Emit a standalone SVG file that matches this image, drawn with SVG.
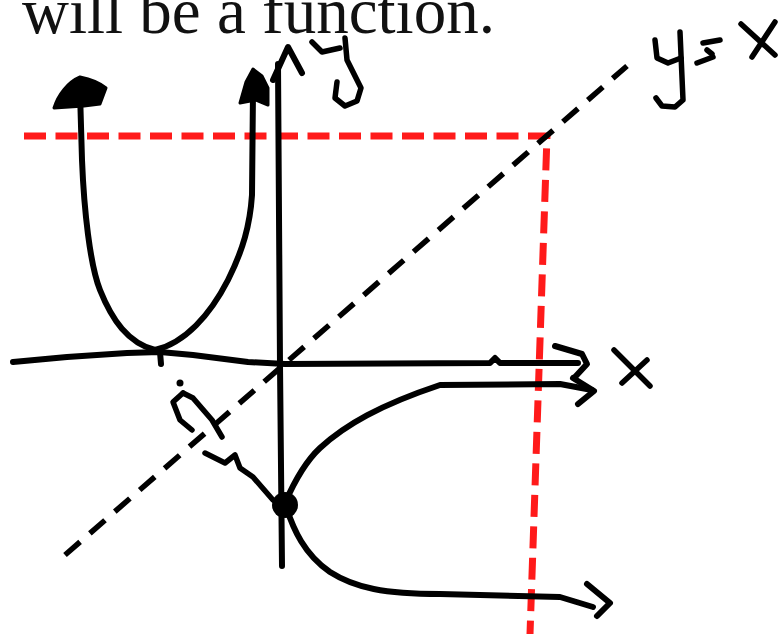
<svg xmlns="http://www.w3.org/2000/svg" width="781" height="638" viewBox="0 0 781 638">
<style>
.ink{fill:none;stroke:#000;stroke-width:6;stroke-linecap:round;stroke-linejoin:round}
.hand{fill:none;stroke:#000;stroke-width:5.5;stroke-linecap:round;stroke-linejoin:round}
.dash{fill:none;stroke:#000;stroke-width:5.5;stroke-dasharray:20 13}
.red{fill:none;stroke:#ff1a1a;stroke-width:7;stroke-dasharray:22 9.5}
.blob{fill:#000;stroke:#000;stroke-width:3;stroke-linejoin:round}
</style>
<rect width="781" height="638" fill="#fff"/>
<text x="22" y="33" font-family="Liberation Serif, Times New Roman, serif" font-size="65" fill="#111">will be a function.</text>

<g id="guides">
<path class="red" d="M24,136 L547,136 L530,634"/>
<path class="dash" d="M65,555 L627,66"/>
</g>

<g id="axes">
<path class="ink" d="M13,362 L67,357 L127,353 L160,352 L193,355 L248,362 L285,364 L490,363 L495,358 L500,363 L578,363"/>
<path class="ink" d="M555,346 L582,354 L587,364 L575,377"/>
<path class="ink" d="M278,64 L280,365 L282,566"/>
<path class="ink" d="M273,80 L288,47 L302,73"/>
</g>

<g id="parabola">
<path class="ink" d="M80,92 L82,160 C84,210 90,265 100,290 C112,320 128,343 155,350 C185,343 210,315 228,280 C243,250 250,225 252,195 L253,90"/>
<path class="ink" d="M160,352 L161,364"/>
<path class="blob" d="M54,108 C58,95 68,82 80,77 C90,79 100,83 106,88 L100,104 L84,106 Z"/>
<path class="blob" d="M240,103 L246,82 L253,69 L262,76 L268,88 L268,105 L256,100 Z"/>
</g>

<g id="branches">
<path class="ink" d="M285,503 C295,480 305,462 320,448 C345,425 380,405 440,385 L560,384 L592,390"/>
<path class="ink" d="M573,378 L594,391 L578,404"/>
<path class="ink" d="M285,503 C293,530 305,555 330,572 C355,588 385,594 440,594 L560,597 L593,607"/>
<path class="ink" d="M587,584 L610,603 L597,616"/>
<circle cx="285" cy="505" r="13" fill="#000"/>
</g>

<g id="marks">
<circle cx="180" cy="383" r="3.5" fill="#000"/>
<path class="hand" d="M183,393 L173,402 L180,420 L192,430"/>
<path class="hand" d="M183,393 L193,398 L212,420 L222,437"/>
<path class="hand" d="M205,453 L225,463 L235,455 L240,468 L253,477 L273,500"/>
</g>

<g id="labels">
<path class="hand" d="M312,42 L322,52 L340,48"/>
<path class="hand" d="M345,38 L347,60 L361,88 L357,101 L345,106 L335,98 L337,82"/>
<path class="hand" d="M614,350 L650,386"/>
<path class="hand" d="M647,360 L622,383"/>
<path class="hand" d="M655,40 L657,58 L668,63 L681,58"/>
<path class="hand" d="M680,32 L683,100 L675,107 L662,106 L656,98"/>
<path class="hand" d="M703,43 L720,40"/>
<path class="hand" d="M707,50 L712,54"/>
<path class="hand" d="M697,63 L713,57"/>
<path class="hand" d="M741,24 L775,55"/>
<path class="hand" d="M775,22 L752,57"/>
</g>
</svg>
